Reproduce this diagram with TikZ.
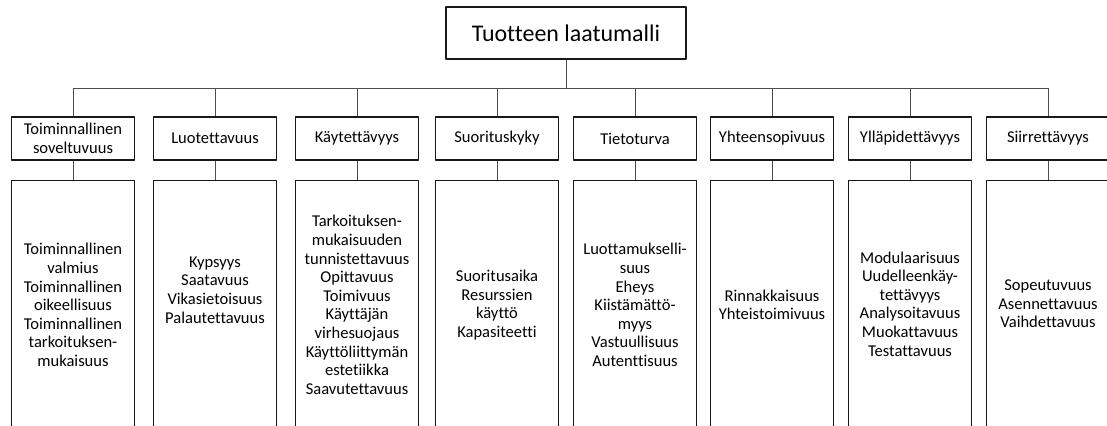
\documentclass[tikz,border=0pt]{standalone}
\usepackage{fontspec}
\setmainfont{Carlito}[Ligatures=NoCommon]
\usetikzlibrary{positioning}

\tikzset{
  rootbox/.style={draw=black!90,line width=1.3pt,minimum width=240bp,minimum height=52bp,font=\fontsize{24}{28}\selectfont},
  catbox/.style={draw=black!90,line width=1.3pt,minimum width=123bp,minimum height=43bp,align=center,inner sep=1bp,font=\fontsize{16.6}{19}\selectfont},
  subbox/.style={draw=black!90,line width=1.3pt,minimum width=123bp,minimum height=262bp},
  itemlist/.style={align=center,inner sep=0pt,font=\fontsize{16.6}{18.7}\selectfont},
  link/.style={draw=black!70,line width=0.8pt},
}

\begin{document}
\begin{tikzpicture}[>=latex,line join=bevel,]
\useasboundingbox (0bp,0bp) rectangle (1107bp,426bp);
%%
\node (root) at (566bp,393bp) [rootbox] {Tuotteen laatumalli};
\coordinate (busy) at (0bp,338bp);
%
  \node (cat1) at (73bp,287.5bp) [catbox] {Toiminnallinen\\soveltuvuus};
  \node (cat2) at (215bp,287.5bp) [catbox] {Luotettavuus};
  \node (cat3) at (357bp,287.5bp) [catbox] {Käytettävyys};
  \node (cat4) at (497bp,287.5bp) [catbox] {Suorituskyky};
  \node (cat5) at (635bp,287.5bp) [catbox] {Tietoturva};
  \node (cat6) at (772bp,287.5bp) [catbox] {Yhteensopivuus};
  \node (cat7) at (910bp,287.5bp) [catbox] {Ylläpidettävyys};
  \node (cat8) at (1048bp,287.5bp) [catbox] {Siirrettävyys};
%
\foreach \i in {1,...,8} {
  \node (sub\i) [subbox,below=19bp of cat\i] {};
}
%
  \node (list1) at (73bp,121bp) [itemlist] {Toiminnallinen\\valmius\\Toiminnallinen\\oikeellisuus\\Toiminnallinen\\tarkoituksen-\\mukaisuus};
  \node (list2) at (215bp,136bp) [itemlist] {Kypsyys\\Saatavuus\\Vikasietoisuus\\Palautettavuus};
  \node (list3) at (357bp,121bp) [itemlist] {Tarkoituksen-\\mukaisuuden\\tunnistettavuus\\Opittavuus\\Toimivuus\\Käyttäjän\\virhesuojaus\\Käyttöliittymän\\estetiikka\\Saavutettavuus};
  \node (list4) at (497bp,121bp) [itemlist] {Suoritusaika\\Resurssien\\käyttö\\Kapasiteetti};
  \node (list5) at (635bp,121bp) [itemlist] {Luottamukselli-\\suus\\Eheys\\Kiistämättö-\\myys\\Vastuullisuus\\Autenttisuus};
  \node (list6) at (772bp,121bp) [itemlist] {Rinnakkaisuus\\Yhteistoimivuus};
  \node (list7) at (910bp,122bp) [itemlist] {Modulaarisuus\\Uudelleenkäy-\\tettävyys\\Analysoitavuus\\Muokattavuus\\Testattavuus};
  \node (list8) at (1048bp,122bp) [itemlist] {Sopeutuvuus\\Asennettavuus\\Vaihdettavuus};
%
\draw [link] (root.south) -- (root.south |- busy);
\draw [link] (cat1.north |- busy) -- (cat8.north |- busy);
\foreach \i in {1,...,8} {
  \draw [link] (cat\i.north |- busy) -- (cat\i.north);
  \draw [link] (cat\i.south) -- (sub\i.north);
}
%
\end{tikzpicture}
\end{document}
